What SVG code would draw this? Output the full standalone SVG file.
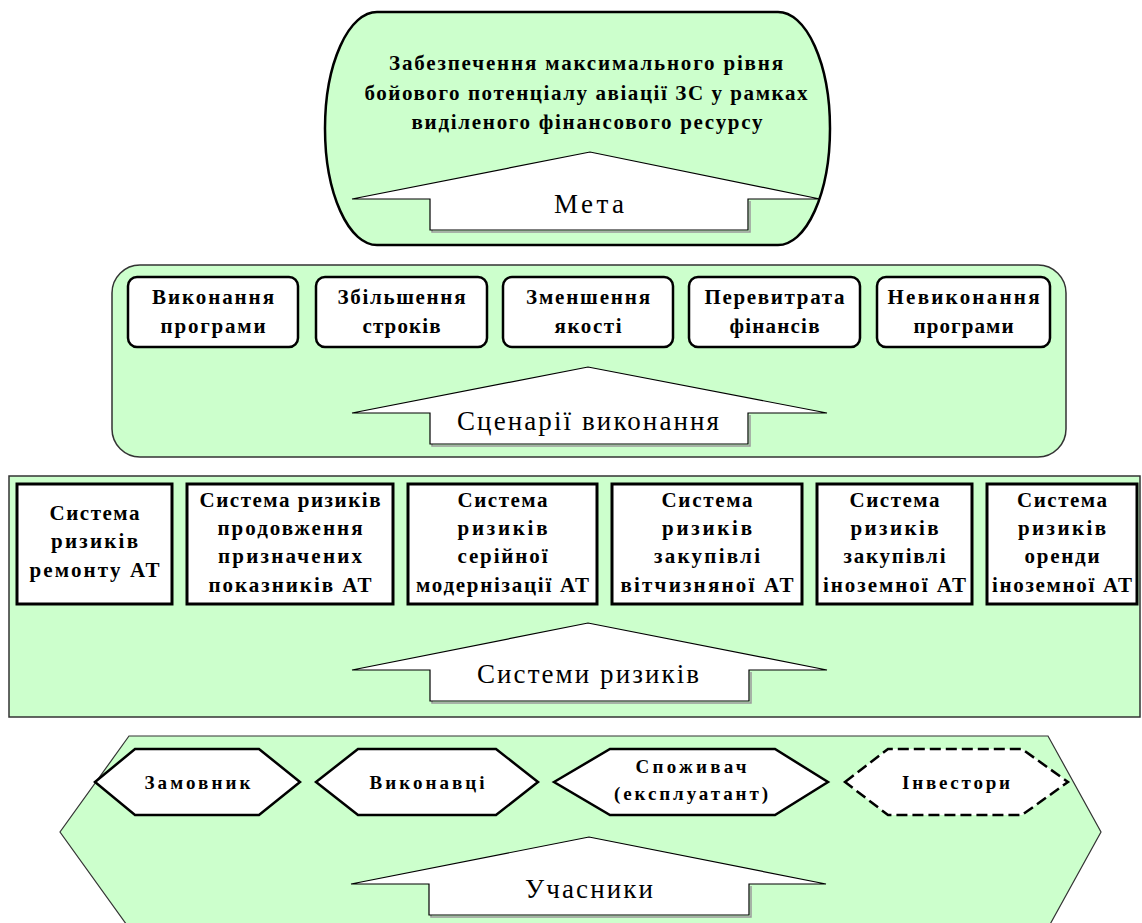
<svg xmlns="http://www.w3.org/2000/svg" width="1142" height="923" viewBox="0 0 1142 923">
<style>
text{font-family:"Liberation Serif","DejaVu Serif",serif;fill:#000;text-anchor:middle}
.b{font-weight:bold;font-size:21px}
.hx{font-weight:bold;font-size:19px}
.big{font-size:27px}
.panel{fill:#ccffcc;stroke:#333;stroke-width:1.5}
.scen{fill:#fff;stroke:#000;stroke-width:2.5}
.risk{fill:#fff;stroke:#000;stroke-width:3}
.hex{fill:#fff;stroke:#000;stroke-width:2.5}
.dash{fill:#fff;stroke:#000;stroke-width:2.5;stroke-dasharray:11 5}
.arr{fill:#fff;stroke:#000;stroke-width:1.2}
.sh{fill:none;stroke:#999;stroke-width:1.5}
</style>
<rect width="1142" height="923" fill="#fff"/>

<g id="goal">
<rect x="325" y="12" width="505" height="233" rx="52" ry="116.5" fill="#ccffcc" stroke="#000" stroke-width="2.5"/>
<text class="b" x="586" y="70" textLength="394" lengthAdjust="spacing">Забезпечення максимального рівня</text>
<text class="b" x="586" y="100" textLength="443" lengthAdjust="spacing">бойового потенціалу авіації ЗС у рамках</text>
<text class="b" x="587" y="129" textLength="351" lengthAdjust="spacing">виділеного фінансового ресурсу</text>
</g>

<g id="scenarios">
<rect class="panel" x="112" y="265" width="954" height="192" rx="28"/>
</g>
<g id="sc1"><rect class="scen" x="128" y="277" width="170" height="70" rx="9"/>
<text class="b" x="213" y="304" textLength="122" lengthAdjust="spacing">Виконання</text>
<text class="b" x="213" y="333" textLength="105" lengthAdjust="spacing">програми</text></g>
<g id="sc2"><rect class="scen" x="316" y="277" width="171" height="70" rx="9"/>
<text class="b" x="401.5" y="304" textLength="128" lengthAdjust="spacing">Збільшення</text>
<text class="b" x="401.5" y="333" textLength="78" lengthAdjust="spacing">строків</text></g>
<g id="sc3"><rect class="scen" x="503" y="277" width="170" height="70" rx="9"/>
<text class="b" x="588" y="304" textLength="124" lengthAdjust="spacing">Зменшення</text>
<text class="b" x="588" y="333" textLength="67" lengthAdjust="spacing">якості</text></g>
<g id="sc4"><rect class="scen" x="689" y="277" width="171" height="70" rx="9"/>
<text class="b" x="774.5" y="304" textLength="140" lengthAdjust="spacing">Перевитрата</text>
<text class="b" x="774.5" y="333" textLength="90" lengthAdjust="spacing">фінансів</text></g>
<g id="sc5"><rect class="scen" x="877" y="277" width="173" height="70" rx="9"/>
<text class="b" x="963.5" y="304" textLength="152" lengthAdjust="spacing">Невиконання</text>
<text class="b" x="963.5" y="333" textLength="100" lengthAdjust="spacing">програми</text></g>

<g id="risks">
<rect class="panel" x="9" y="476" width="1131" height="241"/>
</g>
<g id="r1"><rect class="risk" x="17" y="484" width="155" height="120"/>
<text class="b" x="94.5" y="520" textLength="90" lengthAdjust="spacing">Система</text>
<text class="b" x="94.5" y="548" textLength="87" lengthAdjust="spacing">ризиків</text>
<text class="b" x="94.5" y="577" textLength="130" lengthAdjust="spacing">ремонту АТ</text></g>
<g id="r2"><rect class="risk" x="187" y="484" width="206" height="120"/>
<text class="b" x="290" y="507" textLength="181" lengthAdjust="spacing">Система ризиків</text>
<text class="b" x="290" y="535" textLength="145" lengthAdjust="spacing">продовження</text>
<text class="b" x="290" y="563" textLength="144" lengthAdjust="spacing">призначених</text>
<text class="b" x="290" y="592" textLength="163" lengthAdjust="spacing">показників АТ</text></g>
<g id="r3"><rect class="risk" x="408" y="484" width="189" height="120"/>
<text class="b" x="502.5" y="507" textLength="90" lengthAdjust="spacing">Система</text>
<text class="b" x="502.5" y="535" textLength="90" lengthAdjust="spacing">ризиків</text>
<text class="b" x="502.5" y="563" textLength="90" lengthAdjust="spacing">серійної</text>
<text class="b" x="502.5" y="592" textLength="173" lengthAdjust="spacing">модернізації АТ</text></g>
<g id="r4"><rect class="risk" x="612" y="484" width="190" height="120"/>
<text class="b" x="707" y="507" textLength="91" lengthAdjust="spacing">Система</text>
<text class="b" x="707" y="535" textLength="90" lengthAdjust="spacing">ризиків</text>
<text class="b" x="707" y="563" textLength="106" lengthAdjust="spacing">закупівлі</text>
<text class="b" x="707" y="592" textLength="173" lengthAdjust="spacing">вітчизняної АТ</text></g>
<g id="r5"><rect class="risk" x="817" y="484" width="155" height="120"/>
<text class="b" x="894.5" y="507" textLength="90" lengthAdjust="spacing">Система</text>
<text class="b" x="894.5" y="535" textLength="88" lengthAdjust="spacing">ризиків</text>
<text class="b" x="894.5" y="563" textLength="102" lengthAdjust="spacing">закупівлі</text>
<text class="b" x="894.5" y="592" textLength="143" lengthAdjust="spacing">іноземної АТ</text></g>
<g id="r6"><rect class="risk" x="987" y="484" width="150" height="120"/>
<text class="b" x="1062" y="507" textLength="90" lengthAdjust="spacing">Система</text>
<text class="b" x="1062" y="535" textLength="88" lengthAdjust="spacing">ризиків</text>
<text class="b" x="1062" y="563" textLength="75" lengthAdjust="spacing">оренди</text>
<text class="b" x="1062" y="592" textLength="140" lengthAdjust="spacing">іноземної АТ</text></g>

<g id="participants">
<polygon points="129,736 1048,736 1101,832 1048,928 129,928 60,832" fill="#ccffcc" stroke="#333" stroke-width="1.2"/>
</g>
<g id="p1"><polygon class="hex" points="95,782 135,749 259,749 300,782 259,815 135,815"/>
<text class="hx" x="197.5" y="789" textLength="106" lengthAdjust="spacing">Замовник</text></g>
<g id="p2"><polygon class="hex" points="316,782 358,749 496,749 538,782 496,815 358,815"/>
<text class="hx" x="427" y="789" textLength="115" lengthAdjust="spacing">Виконавці</text></g>
<g id="p3"><polygon class="hex" points="554,782 610,749 775,749 828,782 775,815 610,815"/>
<text class="hx" x="691" y="773" textLength="111" lengthAdjust="spacing">Споживач</text>
<text class="hx" x="691" y="800" textLength="154" lengthAdjust="spacing">(експлуатант)</text></g>
<g id="p4"><polygon class="dash" points="845,782 888,749 1022,749 1068,782 1022,815 888,815"/>
<text class="hx" x="956" y="789" textLength="108" lengthAdjust="spacing">Інвестори</text></g>

<g id="connectors">
<g id="a-goal"><path class="sh" d="M432,201 L432,232 L750,232 L750,201"/>
<path class="arr" d="M352,199 L590,152 L820,199 L748,199 L748,230 L430,230 L430,199 Z"/>
<text class="big" x="589" y="213" textLength="70" lengthAdjust="spacing">Мета</text></g>
<g id="a-scen"><path class="sh" d="M432,415 L432,446 L750,446 L750,415"/>
<path class="arr" d="M352,413 L588,367 L827,413 L748,413 L748,444 L430,444 L430,413 Z"/>
<text class="big" x="588" y="430" textLength="262" lengthAdjust="spacing">Сценарії виконання</text></g>
<g id="a-risk"><path class="sh" d="M432,672 L432,703 L751,703 L751,672"/>
<path class="arr" d="M352,670 L588,623 L827,670 L749,670 L749,701 L430,701 L430,670 Z"/>
<text class="big" x="588" y="683" textLength="222" lengthAdjust="spacing">Системи ризиків</text></g>
<g id="a-part"><path class="sh" d="M431,886 L431,917 L751,917 L751,886"/>
<path class="arr" d="M351,884 L589,837 L826,884 L749,884 L749,915 L429,915 L429,884 Z"/>
<text class="big" x="589" y="898" textLength="128" lengthAdjust="spacing">Учасники</text></g>
</g>
</svg>
